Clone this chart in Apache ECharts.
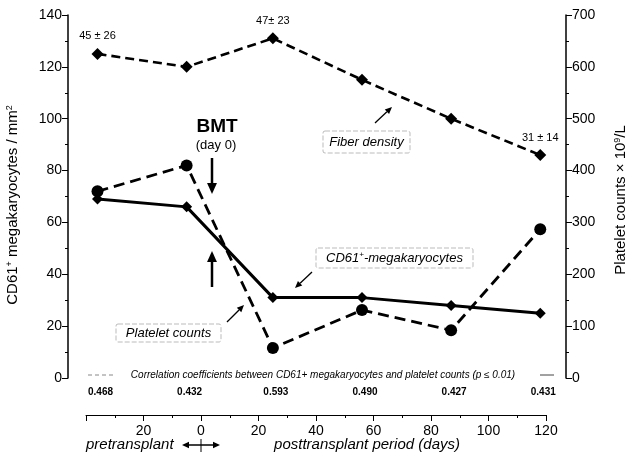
<!DOCTYPE html>
<html><head><meta charset="utf-8">
<script src="https://cdn.jsdelivr.net/npm/echarts@6/dist/echarts.min.js"></script>
<style>html,body{margin:0;padding:0;background:#fff}#c{width:633px;height:456px}</style>
</head><body><div id="c"></div>
<script>
const days = [-36, -5, 25, 56, 87, 118];
const fiberDensity = [125, 120, 131, 115, 100, 86];
const fiberLabels = ['45 ± 26', '', '47± 23', '', '', '31 ± 14'];
const cd61 = [69, 66, 31, 31, 28, 25];
const platelets = [360, 410, 58, 131, 92, 287];
const correlations = ['0.468', '0.432', '0.593', '0.490', '0.427', '0.431'];
const leftTicks = [0, 140, 20];
const rightTicks = [0, 700, 100];
const bottomTicks = [-40, 120, 20];

const FONT = 'Liberation Sans, Arial, sans-serif';
const chart = echarts.init(document.getElementById('c'), null, {renderer: 'canvas'});
const pxPerDay = 460 / 160;
const gxMin = -40 - 18 / pxPerDay, gxMax = 120 + 20 / pxPerDay;

function pairs(ys) { return days.map((d, i) => [d, ys[i]]); }

const option = {
  animation: false,
  backgroundColor: '#fff',
  grid: [
    {left: 68, top: 15, width: 498, height: 363},
    {left: 86, top: 414, width: 460, height: 1}
  ],
  xAxis: [
    {gridIndex: 0, type: 'value', min: gxMin, max: gxMax, show: false},
    {gridIndex: 1, type: 'value', min: bottomTicks[0], max: bottomTicks[1], interval: bottomTicks[2],
     axisLine: {show: true, onZero: false, lineStyle: {color: '#000', width: 1}},
     axisTick: {show: true, length: 6, lineStyle: {color: '#000'}},
     minorTick: {show: true, splitNumber: 2, length: 3, lineStyle: {color: '#000'}},
     splitLine: {show: false},
     axisLabel: {color: '#000', fontSize: 14, fontFamily: FONT, margin: 9,
       formatter: v => v === -40 ? '' : String(Math.abs(v))}}
  ],
  yAxis: [
    {gridIndex: 0, type: 'value', position: 'left', min: leftTicks[0], max: leftTicks[1], interval: leftTicks[2],
     axisLine: {show: true, onZero: false, lineStyle: {color: '#000', width: 1.5}},
     axisTick: {show: true, length: 6, lineStyle: {color: '#000'}},
     minorTick: {show: true, splitNumber: 2, length: 3, lineStyle: {color: '#000'}},
     splitLine: {show: false},
     axisLabel: {color: '#000', fontSize: 14, fontFamily: FONT, margin: 6}},
    {gridIndex: 0, type: 'value', position: 'right', min: rightTicks[0], max: rightTicks[1], interval: rightTicks[2],
     axisLine: {show: true, onZero: false, lineStyle: {color: '#000', width: 1.5}},
     axisTick: {show: true, length: 6, lineStyle: {color: '#000'}},
     minorTick: {show: true, splitNumber: 2, length: 3, lineStyle: {color: '#000'}},
     splitLine: {show: false},
     axisLabel: {color: '#000', fontSize: 14, fontFamily: FONT, margin: 6}},
    {gridIndex: 1, type: 'value', show: false, axisLine: {onZero: false}}
  ],
  series: [
    {name: 'Fiber density', type: 'line', xAxisIndex: 0, yAxisIndex: 0,
     data: pairs(fiberDensity).map((p, i) => ({value: p, label: {show: !!fiberLabels[i], formatter: fiberLabels[i]}})),
     symbol: 'diamond', symbolSize: 12, itemStyle: {color: '#000'},
     lineStyle: {color: '#000', width: 2.6, type: [9, 5]},
     label: {position: 'top', distance: 6, color: '#000', fontSize: 11, fontFamily: FONT}},
    {name: 'CD61+-megakaryocytes', type: 'line', xAxisIndex: 0, yAxisIndex: 0,
     data: pairs(cd61), symbol: 'diamond', symbolSize: 11, itemStyle: {color: '#000'},
     lineStyle: {color: '#000', width: 3}},
    {name: 'Platelet counts', type: 'line', xAxisIndex: 0, yAxisIndex: 1,
     data: pairs(platelets), symbol: 'circle', symbolSize: 12, itemStyle: {color: '#000'},
     lineStyle: {color: '#000', width: 2.8, type: [11, 6]}}
  ]
};
chart.setOption(option);

function arrow(x1, y1, x2, y2, w, head) {
  const a = Math.atan2(y2 - y1, x2 - x1);
  const h = head || 8, hw = h * 0.45;
  const bx = x2 - h * Math.cos(a), by = y2 - h * Math.sin(a);
  return [
    {type: 'line', shape: {x1: x1, y1: y1, x2: bx, y2: by}, style: {stroke: '#000', lineWidth: w}},
    {type: 'polygon', shape: {points: [[x2, y2], [bx - hw * Math.sin(a), by + hw * Math.cos(a)], [bx + hw * Math.sin(a), by - hw * Math.cos(a)]]}, style: {fill: '#000'}}
  ];
}
const richItalic = {
  a: {fontFamily: FONT, fontStyle: 'italic', fontSize: 13, color: '#000'},
  s: {fontFamily: FONT, fontStyle: 'italic', fontSize: 8, color: '#000', verticalAlign: 'top', padding: [0, 0, 6, 0]}
};
function box(x, y, w, h, text) {
  return [
    {type: 'rect', shape: {x: x, y: y, width: w, height: h, r: 2}, style: {fill: '#fff', stroke: '#aaa', lineWidth: 0.8, lineDash: [5, 2]}},
    {type: 'text', x: x + w / 2, y: y + h / 2, style: {text: text, rich: richItalic, fill: '#000', font: 'italic 13px ' + FONT, textAlign: 'center', textVerticalAlign: 'middle'}}
  ];
}

const g = [];
// axis titles
g.push({type: 'text', x: 13, y: 205, rotation: Math.PI / 2, style: {text: '{a|CD61}{s|+}{a| megakaryocytes / mm}{s|2}',
  rich: {a: {fontFamily: FONT, fontSize: 15, color: '#000'}, s: {fontFamily: FONT, fontSize: 9, color: '#000', padding: [0, 0, 7, 0]}},
  textAlign: 'center', textVerticalAlign: 'middle'}});
g.push({type: 'text', x: 621, y: 200, rotation: Math.PI / 2, style: {text: '{a|Platelet counts × 10}{s|9}{a|/L}',
  rich: {a: {fontFamily: FONT, fontSize: 15, color: '#000'}, s: {fontFamily: FONT, fontSize: 9, color: '#000', padding: [0, 0, 7, 0]}},
  textAlign: 'center', textVerticalAlign: 'middle'}});
// BMT
g.push({type: 'text', x: 217, y: 127, style: {text: 'BMT', fill: '#000', font: 'bold 19px ' + FONT, textAlign: 'center', textVerticalAlign: 'middle'}});
g.push({type: 'text', x: 216, y: 145, style: {text: '(day 0)', fill: '#000', font: '13px ' + FONT, textAlign: 'center', textVerticalAlign: 'middle'}});
g.push(...arrow(212, 158, 212, 194, 2.5, 11));
g.push(...arrow(212, 287, 212, 251, 2.5, 11));
// label boxes
g.push(...box(323, 131, 87, 22, '{a|Fiber density}'));
g.push(...arrow(375, 123, 392, 107, 1.3, 7));
g.push(...box(116, 324, 105, 18, '{a|Platelet counts}'));
g.push(...arrow(227, 322, 244, 305, 1.3, 7));
g.push(...box(316, 248, 157, 20, '{a|CD61}{s|+}{a|-megakaryocytes}'));
g.push(...arrow(312, 272, 295, 288, 1.3, 7));
// correlation line
g.push({type: 'line', shape: {x1: 88, y1: 375, x2: 114, y2: 375}, style: {stroke: '#888', lineWidth: 1, lineDash: [4, 3]}});
g.push({type: 'line', shape: {x1: 540, y1: 375, x2: 554, y2: 375}, style: {stroke: '#444', lineWidth: 1}});
g.push({type: 'text', x: 323, y: 375, style: {text: 'Correlation coefficients between CD61+ megakaryocytes and platelet counts (p ≤ 0.01)', fill: '#000', font: 'italic 10px ' + FONT, textAlign: 'center', textVerticalAlign: 'middle'}});
days.forEach((d, i) => {
  const px = chart.convertToPixel({xAxisIndex: 0}, d);
  g.push({type: 'text', x: px + 3, y: 392, style: {text: correlations[i], fill: '#000', font: 'bold 10px ' + FONT, textAlign: 'center', textVerticalAlign: 'middle'}});
});
// bottom texts
g.push({type: 'text', x: 86, y: 445, style: {text: 'pretransplant', fill: '#000', font: 'italic 15px ' + FONT, textAlign: 'left', textVerticalAlign: 'middle'}});
g.push({type: 'text', x: 367, y: 445, style: {text: 'posttransplant period (days)', fill: '#000', font: 'italic 15px ' + FONT, textAlign: 'center', textVerticalAlign: 'middle'}});
g.push(...arrow(201, 445, 220, 445, 1.5, 7));
g.push(...arrow(201, 445, 182, 445, 1.5, 7));
g.push({type: 'line', shape: {x1: 201, y1: 439, x2: 201, y2: 452}, style: {stroke: '#000', lineWidth: 1}});

chart.setOption({graphic: g});
</script>
</body></html>
